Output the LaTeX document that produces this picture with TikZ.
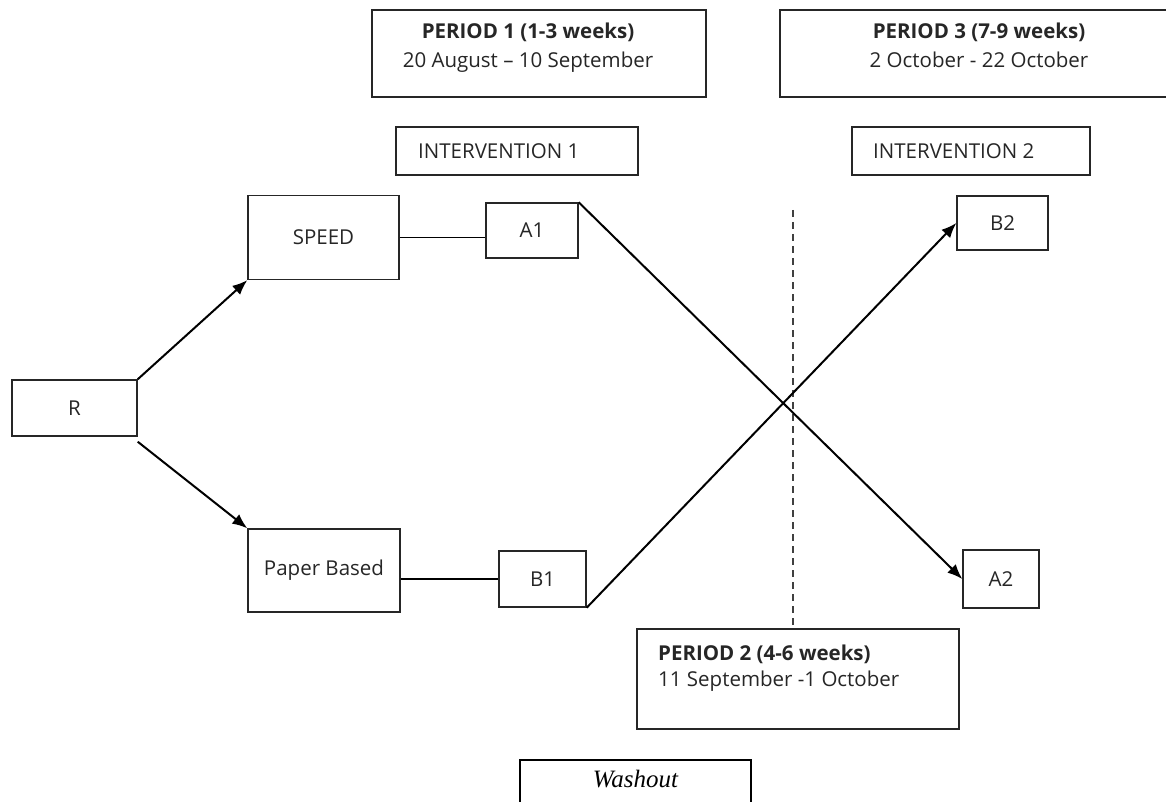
\documentclass[tikz,border=0pt]{standalone}
\usepackage{fontspec}
\setmainfont{Open Sans}
\newfontfamily\washfont{Liberation Serif}
\usetikzlibrary{arrows.meta}
\tikzset{
  box/.style={draw=black!85, line width=1.4pt, rectangle, inner sep=0pt},
  lbl/.style={inner sep=0pt, font=\fontsize{20.5}{29}\selectfont, text=black!85},
  conn/.style={line width=2pt, black},
  arr/.style={conn, -{Latex[length=15pt,width=12pt]}},
}
\begin{document}
\begin{tikzpicture}[x=1pt,y=-1pt]
\useasboundingbox (0,0) rectangle (1166,802);
% period boxes
\node[box, minimum width=334, minimum height=87] (p1) at (539,53.5) {};
\node[lbl, align=center, anchor=north] (p1t) at (528,23) {\textbf{PERIOD 1 (1-3 weeks)}\\20 August – 10 September};
\node[box, minimum width=396, minimum height=87] (p3) at (978,53.5) {};
\node[lbl, align=center, anchor=north] (p3t) at (979,23) {\textbf{PERIOD 3 (7-9 weeks)}\\2 October - 22 October};
% interventions
\node[box, minimum width=242, minimum height=48] (i1) at (517,151) {};
\node[lbl, anchor=west] (i1t) at (418,151) {INTERVENTION 1};
\node[box, minimum width=238, minimum height=48] (i2) at (971,151) {};
\node[lbl, anchor=west] (i2t) at (873,151) {INTERVENTION 2};
% main nodes
\node[box, minimum width=125, minimum height=56] (r) at (74.5,408) {};
\node[lbl] (rt) at (r) {R};
\node[box, minimum width=151, minimum height=84] (speed) at (323.5,237.5) {};
\node[lbl] (speedt) at (speed) {SPEED};
\node[box, minimum width=152, minimum height=83] (paper) at (324,570.5) {};
\node[lbl] (papert) at (paper) {Paper Based};
\node[box, minimum width=92, minimum height=55] (a1) at (532,230.5) {};
\node[lbl] (a1t) at (a1) {A1};
\node[box, minimum width=87, minimum height=56] (b1) at (542.5,579) {};
\node[lbl] (b1t) at (b1) {B1};
\node[box, minimum width=91, minimum height=54] (b2) at (1002.5,223) {};
\node[lbl] (b2t) at (b2) {B2};
\node[box, minimum width=76, minimum height=58] (a2) at (1001,579) {};
\node[lbl] (a2t) at (a2) {A2};
% period 2
\node[box, minimum width=322, minimum height=100] (p2) at (798,679) {};
\node[lbl, align=left, anchor=north west, font=\fontsize{20.5}{26}\selectfont] (p2t) at (658,645) {\textbf{PERIOD 2 (4-6 weeks)}\\11 September -1 October};
% washout
\node[draw=black, line width=1.8pt, minimum width=231, minimum height=60, inner sep=0pt] (wash) at (635.5,790) {};
\node[inner sep=0pt, font=\washfont\itshape\fontsize{25}{28}\selectfont] (washt) at (635.5,779) {Washout};
% dashed line
\coordinate (d1) at (793,210);
\draw[line width=1.5pt, black!75, dash pattern=on 7pt off 5pt] (d1) -- (d1 |- p2.north);
% connectors
\draw[arr] (r.north east) -- (speed.south west);
\draw[arr] ([yshift=-5pt]r.south east) -- (paper.north west);
\draw[conn, line width=1.6pt] (speed.east) -- (speed.east -| a1.west);
\draw[conn, line width=1.6pt] (paper.east |- b1.west) -- (b1.west);
\draw[arr] (a1.north east) -- (a2.west);
\draw[arr] (b1.south east) -- (b2.west);
\end{tikzpicture}
\end{document}
